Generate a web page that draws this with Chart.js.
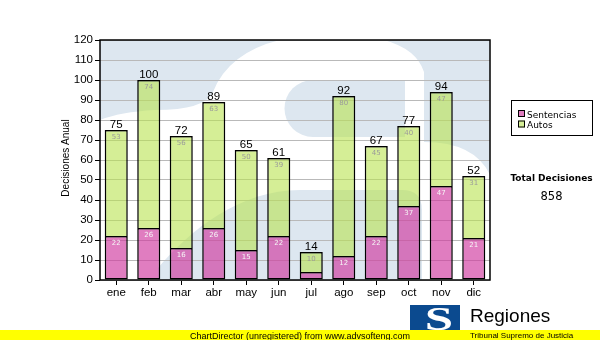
<!DOCTYPE html>
<html>
<head>
<meta charset="utf-8">
<script src="https://cdn.jsdelivr.net/npm/chart.js@4.4.1/dist/chart.umd.min.js"></script>
<style>
  html, body { margin: 0; padding: 0; background: #fff; }
  #wrap { width: 600px; height: 340px; position: relative; }
</style>
</head>
<body>
<div id="wrap"><canvas id="c" width="600" height="340"></canvas></div>
<script>
// Monthly decisions, split by type
const months = ['ene', 'feb', 'mar', 'abr', 'may', 'jun', 'jul', 'ago', 'sep', 'oct', 'nov', 'dic'];
const sentencias = [22, 26, 16, 26, 15, 22, 4, 12, 22, 37, 47, 21];
const autos = [53, 74, 56, 63, 50, 39, 10, 80, 45, 40, 47, 31];
const seriesNames = ['Sentencias', 'Autos'];

const PINK = 'rgba(208, 55, 158, 0.65)';
const GREEN = 'rgba(185, 227, 80, 0.6)';
const SANS = '"Liberation Sans", Arial, sans-serif';
const VERD = '"DejaVu Sans", Verdana, sans-serif';

const totals = months.map((_, i) => sentencias[i] + autos[i]);
const grandTotal = totals.reduce((a, b) => a + b, 0);

// Plot backdrop: pale blue panel with a large white "S" emblem.
// The emblem is described in a 390x240 box and mapped onto the plot area.
const backdrop = {
  id: 'backdrop',
  beforeDraw(chart) {
    const { ctx, chartArea: a } = chart;
    const sx = (a.right - a.left) / 390, sy = (a.bottom - a.top) / 240;
    const X = v => a.left + v * sx, Y = v => a.top + v * sy;
    ctx.save();
    ctx.fillStyle = '#fff';
    ctx.fillRect(0, 0, chart.width, chart.height);
    ctx.beginPath();
    ctx.rect(a.left, a.top, a.right - a.left, a.bottom - a.top);
    ctx.clip();
    ctx.fillStyle = '#dde7f0';
    ctx.fillRect(a.left, a.top, a.right - a.left, a.bottom - a.top);

    // white body of the emblem
    ctx.fillStyle = '#fff';
    ctx.beginPath();
    ctx.moveTo(X(0), Y(80));
    ctx.quadraticCurveTo(X(20), Y(72), X(55), Y(70));
    ctx.quadraticCurveTo(X(105), Y(70), X(113), Y(52));
    ctx.quadraticCurveTo(X(135), Y(-4), X(230), Y(-6));
    ctx.quadraticCurveTo(X(312), Y(-6), X(324), Y(32));
    ctx.lineTo(X(324), Y(102));
    ctx.quadraticCurveTo(X(385), Y(102), X(395), Y(150));
    ctx.lineTo(X(395), Y(250));
    ctx.lineTo(X(0), Y(250));
    ctx.closePath();
    ctx.fill();

    // blue counters of the emblem
    ctx.fillStyle = '#dde7f0';
    ctx.beginPath();
    ctx.moveTo(X(305), Y(40));
    ctx.lineTo(X(213), Y(40));
    ctx.arc(X(213), Y(68.5), 28.5 * sy, -Math.PI / 2, Math.PI / 2, true);
    ctx.lineTo(X(305), Y(97));
    ctx.closePath();
    ctx.fill();

    ctx.beginPath();
    ctx.moveTo(X(58), Y(250));
    ctx.lineTo(X(58), Y(228));
    ctx.bezierCurveTo(X(90), Y(190), X(140), Y(150), X(200), Y(150));
    ctx.lineTo(X(302), Y(150));
    ctx.quadraticCurveTo(X(322), Y(150), X(322), Y(170));
    ctx.lineTo(X(322), Y(250));
    ctx.closePath();
    ctx.fill();
    ctx.restore();
  }
};

// Frame around the plot and value labels on the bars
const barLabels = {
  id: 'barLabels',
  afterDatasetsDraw(chart) {
    const { ctx, chartArea: a } = chart;
    ctx.save();
    ctx.strokeStyle = '#000';
    ctx.lineWidth = 1.5;
    ctx.strokeRect(a.left, a.top, a.right - a.left, a.bottom - a.top);

    const metaS = chart.getDatasetMeta(0);
    const metaA = chart.getDatasetMeta(1);
    ctx.textAlign = 'center';
    ctx.textBaseline = 'middle';
    ctx.font = '7px ' + VERD;
    metaS.data.forEach((bar, i) => {
      if (bar.base - bar.y >= 12) {
        ctx.fillStyle = '#f6f6f6';
        ctx.fillText(String(sentencias[i]), bar.x, bar.y + 7);
      }
    });
    metaA.data.forEach((bar, i) => {
      if (bar.base - bar.y >= 12) {
        ctx.fillStyle = '#9a9a9a';
        ctx.fillText(String(autos[i]), bar.x, bar.y + 7);
      }
    });
    ctx.textBaseline = 'alphabetic';
    ctx.font = '11.5px ' + SANS;
    ctx.fillStyle = '#000';
    metaA.data.forEach((bar, i) => {
      ctx.fillText(String(totals[i]), bar.x, bar.y - 2);
    });
    ctx.restore();
  }
};

// Axis title, legend box, total, logo and footer strip
const decorations = {
  id: 'decorations',
  afterDraw(chart) {
    const ctx = chart.ctx;
    ctx.save();
    // y axis title
    ctx.save();
    ctx.translate(69, 158);
    ctx.rotate(-Math.PI / 2);
    ctx.font = '10px ' + SANS;
    ctx.fillStyle = '#000';
    ctx.textAlign = 'center';
    ctx.textBaseline = 'alphabetic';
    ctx.fillText('Decisiones Anual', 0, 0);
    ctx.restore();

    // legend
    ctx.fillStyle = '#fff';
    ctx.fillRect(511, 100, 81, 36);
    ctx.strokeStyle = '#000';
    ctx.lineWidth = 1;
    ctx.strokeRect(511.5, 100.5, 81, 35);
    const swatches = [PINK, GREEN];
    ctx.font = '9px ' + VERD;
    ctx.textAlign = 'left';
    seriesNames.forEach((name, k) => {
      const y = 110 + k * 10.5;
      ctx.fillStyle = '#fff';
      ctx.fillRect(518, y, 7, 7);
      ctx.fillStyle = swatches[k];
      ctx.fillRect(518, y, 7, 7);
      ctx.strokeStyle = '#000';
      ctx.strokeRect(518.5, y + 0.5, 6, 6);
      ctx.fillStyle = '#000';
      ctx.fillText(name, 527, y + 7.5);
    });

    // grand total
    ctx.textAlign = 'center';
    ctx.font = 'bold 9px ' + VERD;
    ctx.fillText('Total Decisiones', 551.5, 180.5);
    ctx.font = '11.5px ' + VERD;
    ctx.fillText(String(grandTotal), 551.5, 200);

    // logo
    ctx.fillStyle = '#0b4a8f';
    ctx.fillRect(410, 305, 50, 27);
    ctx.save();
    ctx.translate(439, 330);
    ctx.scale(1.5, 1);
    ctx.font = 'bold 34px "Liberation Serif", serif';
    ctx.fillStyle = '#fff';
    ctx.textAlign = 'center';
    ctx.fillText('S', 0, 0);
    ctx.restore();
    ctx.fillStyle = '#000';
    ctx.textAlign = 'left';
    ctx.font = '19px ' + SANS;
    ctx.fillText('Regiones', 470, 322);

    // footer strip
    ctx.fillStyle = '#ffff00';
    ctx.fillRect(0, 330, 600, 10);
    ctx.fillStyle = '#000';
    ctx.textAlign = 'center';
    ctx.font = '9px ' + SANS;
    ctx.fillText('ChartDirector (unregistered) from www.advsofteng.com', 300, 339);
    ctx.textAlign = 'left';
    ctx.font = '8px ' + SANS;
    ctx.fillText('Tribunal Supremo de Justicia', 470, 338);
    ctx.restore();
  }
};

new Chart(document.getElementById('c'), {
  type: 'bar',
  data: {
    labels: months,
    datasets: [
      { label: seriesNames[0], data: sentencias, backgroundColor: PINK, borderSkipped: false },
      { label: seriesNames[1], data: autos, backgroundColor: GREEN, borderSkipped: 'start' }
    ]
  },
  options: {
    responsive: false,
    devicePixelRatio: 1,
    animation: false,
    layout: { padding: { left: 0, right: 110, top: 40, bottom: 40 } },
    datasets: {
      bar: {
        borderColor: '#000',
        borderWidth: 1.5,
        barPercentage: 0.71,
        categoryPercentage: 1
      }
    },
    plugins: {
      legend: { display: false },
      tooltip: { enabled: false },
      title: { display: false }
    },
    scales: {
      x: {
        stacked: true,
        offset: true,
        border: { display: false },
        grid: { offset: false, drawOnChartArea: false, drawTicks: true, tickLength: 5, tickColor: '#000', tickWidth: 1 },
        ticks: { color: '#000', font: { family: SANS, size: 11.5 }, padding: 1, maxRotation: 0, autoSkip: false },
        afterFit(s) { s.height = 20; }
      },
      y: {
        stacked: true,
        min: 0,
        max: 120,
        border: { display: false },
        grid: { color: '#b9b9b9', lineWidth: 1, tickLength: 5, tickColor: '#000', tickWidth: 1 },
        ticks: { stepSize: 10, color: '#000', font: { family: SANS, size: 11.5 }, padding: 2 },
        afterFit(s) { s.width = 100; }
      }
    }
  },
  plugins: [backdrop, barLabels, decorations]
});
</script>
</body>
</html>
